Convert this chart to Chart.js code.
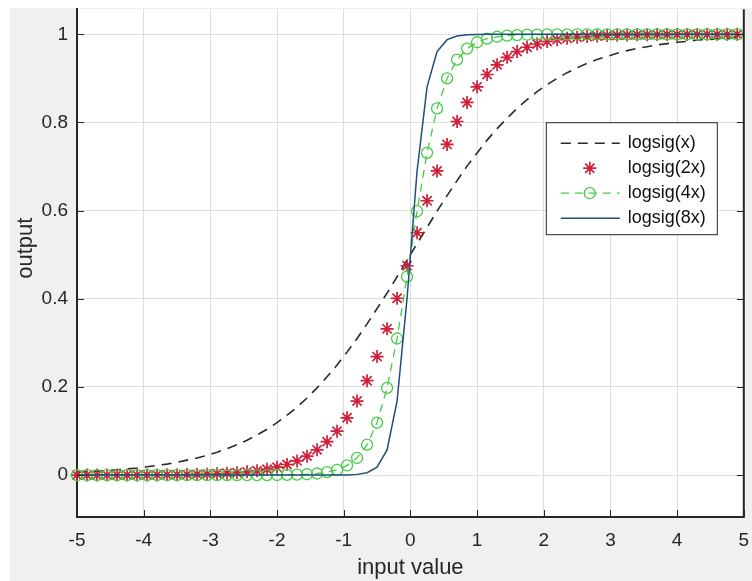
<!DOCTYPE html>
<html>
<head>
<meta charset="utf-8">
<title>logsig</title>
<script src="https://cdn.jsdelivr.net/npm/chart.js@4.4.1/dist/chart.umd.min.js"></script>
<style>
  html, body { margin: 0; padding: 0; background: #fff; }
  #fig { position: absolute; left: 10px; top: 8px; width: 742px; height: 573px; background: #f0f0f0; }
  #sigChart { position: absolute; left: 10px; top: 1px; display: block; }
</style>
</head>
<body>
<div id="fig"></div>
<canvas id="sigChart" width="742" height="580"></canvas>
<script>
// ─── data ───
const xs = [
  -5, -4.85, -4.7, -4.55, -4.4, -4.25, -4.1, -3.95, -3.8, -3.65,
  -3.5, -3.35, -3.2, -3.05, -2.9, -2.75, -2.6, -2.45, -2.3, -2.15,
  -2, -1.85, -1.7, -1.55, -1.4, -1.25, -1.1, -0.95, -0.8, -0.65,
  -0.5, -0.35, -0.2, -0.05, 0.1, 0.25, 0.4, 0.55, 0.7, 0.85,
  1, 1.15, 1.3, 1.45, 1.6, 1.75, 1.9, 2.05, 2.2, 2.35,
  2.5, 2.65, 2.8, 2.95, 3.1, 3.25, 3.4, 3.55, 3.7, 3.85,
  4, 4.15, 4.3, 4.45, 4.6, 4.75, 4.9
];
const sigX = [
  0.007, 0.008, 0.009, 0.010, 0.012, 0.014, 0.016, 0.019, 0.022, 0.025,
  0.029, 0.034, 0.039, 0.045, 0.052, 0.060, 0.069, 0.079, 0.091, 0.104,
  0.119, 0.136, 0.154, 0.175, 0.198, 0.223, 0.250, 0.279, 0.310, 0.343,
  0.378, 0.413, 0.450, 0.488, 0.525, 0.562, 0.599, 0.634, 0.668, 0.701,
  0.731, 0.760, 0.786, 0.810, 0.832, 0.852, 0.870, 0.886, 0.900, 0.913,
  0.924, 0.934, 0.943, 0.950, 0.957, 0.963, 0.968, 0.972, 0.976, 0.979,
  0.982, 0.984, 0.987, 0.988, 0.990, 0.991, 0.993
];
const sig2X = [
  0.0000, 0.0001, 0.0001, 0.0001, 0.0002, 0.0002, 0.0003, 0.0004, 0.0005, 0.0007,
  0.0009, 0.0012, 0.0017, 0.0022, 0.0030, 0.0041, 0.0055, 0.0074, 0.0100, 0.0134,
  0.0180, 0.0241, 0.0323, 0.0431, 0.0573, 0.0759, 0.0998, 0.1301, 0.1680, 0.2142,
  0.2689, 0.3318, 0.4013, 0.4750, 0.5498, 0.6225, 0.6900, 0.7503, 0.8022, 0.8455,
  0.8808, 0.9089, 0.9309, 0.9478, 0.9608, 0.9707, 0.9781, 0.9837, 0.9879, 0.9910,
  0.9933, 0.9950, 0.9963, 0.9973, 0.9980, 0.9985, 0.9989, 0.9992, 0.9994, 0.9995,
  0.9997, 0.9998, 0.9998, 0.9999, 0.9999, 0.9999, 0.9999
];
const sig4X = [
  0, 0, 0, 0, 0, 0, 0, 0, 0, 0,
  0, 0, 0, 0, 0, 0, 0, 0.0001, 0.0001, 0.0002,
  0.0003, 0.0006, 0.0011, 0.0020, 0.0037, 0.0067, 0.0121, 0.0219, 0.0392, 0.0691,
  0.1192, 0.1978, 0.3100, 0.4502, 0.5987, 0.7311, 0.8320, 0.9002, 0.9427, 0.9677,
  0.9820, 0.9901, 0.9945, 0.9970, 0.9983, 0.9991, 0.9995, 0.9997, 0.9998, 0.9999,
  1, 1, 1, 1, 1, 1, 1, 1, 1, 1,
  1, 1, 1, 1, 1, 1, 1
];
const sig8X = [
  0, 0, 0, 0, 0, 0, 0, 0, 0, 0,
  0, 0, 0, 0, 0, 0, 0, 0, 0, 0,
  0, 0, 0, 0, 0, 0, 0.0002, 0.0005, 0.0017, 0.0055,
  0.0180, 0.0573, 0.1680, 0.4013, 0.6900, 0.8808, 0.9608, 0.9879, 0.9963, 0.9989,
  0.9997, 0.9999, 1, 1, 1, 1, 1, 1, 1, 1,
  1, 1, 1, 1, 1, 1, 1, 1, 1, 1,
  1, 1, 1, 1, 1, 1, 1
];
const xTicks = [-5, -4, -3, -2, -1, 0, 1, 2, 3, 4, 5];
const yTicks = [0, 0.2, 0.4, 0.6, 0.8, 1];
const seriesNames = ['logsig(x)', 'logsig(2x)', 'logsig(4x)', 'logsig(8x)'];

const FONT = '"Liberation Sans", Arial, Helvetica, sans-serif';
const INK = '#262626';
const C_BLACK = '#2a2a2a', C_RED = '#cf1f3a', C_GREEN = '#45cc45', C_BLUE = '#1d4f7a';

const pts = ys => xs.map((x, i) => ({ x, y: ys[i] }));

// MATLAB-ish frame: white axes, inward ticks, right edge, y label, boxed legend
const axesFrame = {
  id: 'axesFrame',
  beforeDraw(chart) {
    const { ctx, chartArea: a } = chart;
    ctx.save();
    ctx.fillStyle = '#fff';
    ctx.fillRect(a.left, a.top, a.right - a.left, a.bottom - a.top);
    ctx.restore();
  },
  afterDraw(chart) {
    const { ctx, chartArea: a, scales } = chart;
    const tl = 7;
    ctx.save();
    ctx.strokeStyle = INK;
    ctx.lineWidth = 1;
    ctx.beginPath();
    xTicks.forEach(v => {
      const px = Math.round(scales.x.getPixelForValue(v)) + 0.5;
      ctx.moveTo(px, a.bottom); ctx.lineTo(px, a.bottom - tl);
    });
    yTicks.forEach(v => {
      const py = Math.round(scales.y.getPixelForValue(v)) + 0.5;
      ctx.moveTo(a.left, py); ctx.lineTo(a.left + tl, py);
      ctx.moveTo(a.right, py); ctx.lineTo(a.right - tl, py);
    });
    ctx.stroke();
    ctx.lineWidth = 2;
    ctx.beginPath();
    ctx.moveTo(a.right, a.top); ctx.lineTo(a.right, a.bottom + 1);
    ctx.stroke();

    // y label
    ctx.fillStyle = INK;
    ctx.font = `22px ${FONT}`;
    ctx.textAlign = 'center';
    ctx.textBaseline = 'middle';
    ctx.translate(16, a.top + 239);
    ctx.rotate(-Math.PI / 2);
    ctx.fillText('output', 0, 0);
    ctx.restore();

    // legend
    const bx = a.right - 198, by = a.top + 113, bw = 171, bh = 112;
    ctx.save();
    ctx.fillStyle = '#fff';
    ctx.fillRect(bx, by, bw, bh);
    ctx.strokeStyle = INK;
    ctx.lineWidth = 1;
    ctx.strokeRect(bx + 0.5, by + 0.5, bw, bh);
    chart.data.datasets.forEach((ds, i) => {
      const ry = by + 21 + i * 25;
      const l0 = bx + 15, l1 = bx + 74, mx = bx + 44;
      ctx.save();
      if (ds.borderWidth && ds.showLine !== false) {
        ctx.strokeStyle = ds.borderColor;
        ctx.lineWidth = ds.borderWidth;
        ctx.setLineDash(ds.borderDash || []);
        ctx.beginPath();
        ctx.moveTo(l0, ry); ctx.lineTo(l1, ry);
        ctx.stroke();
      }
      ctx.setLineDash([]);
      if (ds.pointRadius > 0) {
        const r = ds.pointRadius;
        ctx.strokeStyle = ds.pointBorderColor;
        ctx.lineWidth = ds.pointBorderWidth;
        ctx.beginPath();
        if (ds.pointStyle === 'star') {
          const d = r * Math.SQRT1_2;
          ctx.moveTo(mx - r, ry); ctx.lineTo(mx + r, ry);
          ctx.moveTo(mx, ry - r); ctx.lineTo(mx, ry + r);
          ctx.moveTo(mx - d, ry - d); ctx.lineTo(mx + d, ry + d);
          ctx.moveTo(mx - d, ry + d); ctx.lineTo(mx + d, ry - d);
        } else {
          ctx.arc(mx, ry, r, 0, Math.PI * 2);
        }
        ctx.stroke();
      }
      ctx.fillStyle = '#111';
      ctx.font = `18px ${FONT}`;
      ctx.textAlign = 'left';
      ctx.textBaseline = 'middle';
      ctx.fillText(seriesNames[i], bx + 82, ry);
      ctx.restore();
    });
    ctx.restore();
  }
};

new Chart(document.getElementById('sigChart'), {
  type: 'line',
  data: {
    datasets: [
      { label: seriesNames[0], data: pts(sigX), borderColor: C_BLACK, borderWidth: 1.6, borderDash: [10, 7], pointRadius: 0, order: 4 },
      { label: seriesNames[1], data: pts(sig2X), showLine: false, borderColor: C_RED, borderWidth: 0, pointStyle: 'star', pointRadius: 6.5, pointBorderColor: C_RED, pointBorderWidth: 1.7, order: 3, clip: false },
      { label: seriesNames[2], data: pts(sig4X), borderColor: C_GREEN, borderWidth: 1.3, borderDash: [8, 6], pointStyle: 'circle', pointRadius: 5.5, pointBorderColor: C_GREEN, pointBackgroundColor: 'rgba(0,0,0,0)', pointBorderWidth: 1.3, order: 2, clip: false },
      { label: seriesNames[3], data: pts(sig8X), borderColor: C_BLUE, borderWidth: 1.5, pointRadius: 0, order: 1 }
    ]
  },
  options: {
    responsive: false,
    animation: false,
    layout: { padding: { top: 0, right: 6, bottom: 0, left: 0 } },
    elements: { line: { tension: 0, fill: false } },
    plugins: { legend: { display: false }, tooltip: { enabled: false } },
    scales: {
      x: {
        type: 'linear', min: -5, max: 5,
        afterBuildTicks: s => { s.ticks = xTicks.map(v => ({ value: v })); },
        afterFit: s => { s.height = 64; s.paddingLeft = 0; s.paddingRight = 0; },
        grid: { color: '#dedede', drawTicks: false },
        border: { color: INK, width: 2 },
        ticks: { color: INK, font: { family: FONT, size: 19 }, padding: 12, maxRotation: 0, autoSkip: false, callback: v => String(v) },
        title: { display: true, text: 'input value', color: INK, font: { family: FONT, size: 22 }, padding: 0 }
      },
      y: {
        type: 'linear', min: -0.095, max: 1.057,
        afterBuildTicks: s => { s.ticks = yTicks.map(v => ({ value: v })); },
        afterFit: s => { s.width = 67; s.paddingTop = 0; s.paddingBottom = 0; },
        grid: { color: '#dedede', drawTicks: false },
        border: { color: INK, width: 2 },
        ticks: { color: INK, font: { family: FONT, size: 19 }, padding: 9, autoSkip: false, callback: v => String(v) }
      }
    }
  },
  plugins: [axesFrame]
});
</script>
</body>
</html>
